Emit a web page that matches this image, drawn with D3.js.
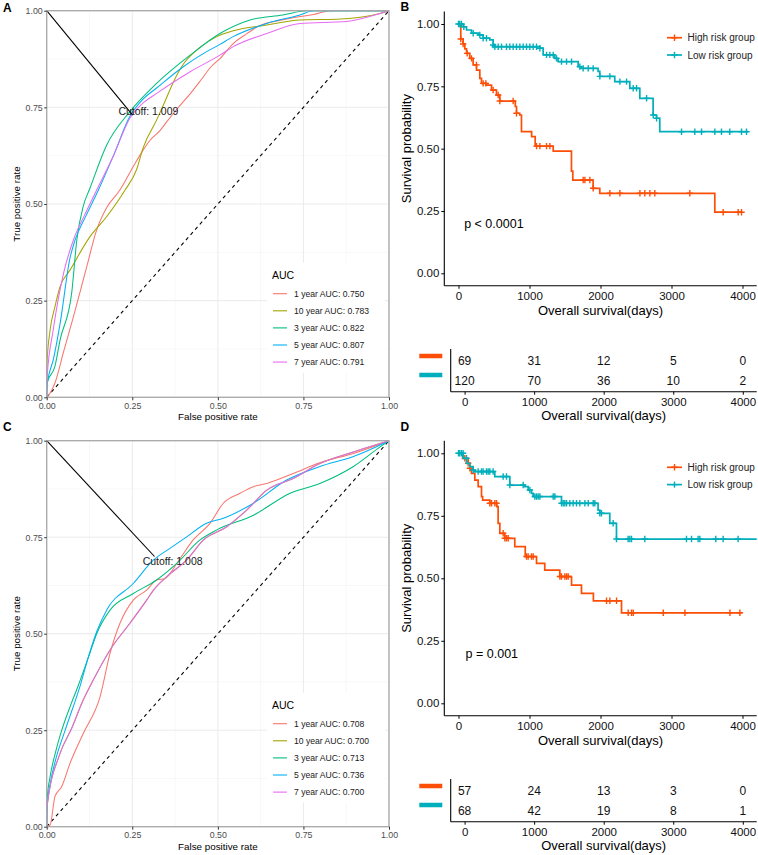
<!DOCTYPE html>
<html>
<head>
<meta charset="utf-8">
<title>ROC and survival curves</title>
<script src="https://cdn.jsdelivr.net/npm/d3@7"></script>
<style>
    body { margin: 0; background: #fff; }
    svg text { font-family: "Liberation Sans", Arial, Helvetica, sans-serif; }
</style>
</head>
<body>
<script>
    // ---------- ROC data (false positive rate, true positive rate) ----------
    var rocYears = ['1 year', '10 year', '3 year', '5 year', '7 year'];
    var rocColors = ['#F8766D', '#A3A500', '#00BF7D', '#00B0F6', '#E76BF3'];
    var aucA = ['0.750', '0.783', '0.822', '0.807', '0.791'];
    var aucC = ['0.708', '0.700', '0.713', '0.736', '0.700'];

    var rocA_1y = [[0,0],[0.01,0.011],[0.024,0.037],[0.05,0.12],[0.078,0.208],[0.117,0.338],[0.146,0.433],[0.175,0.49],[0.214,0.536],[0.253,0.597],[0.282,0.64],[0.302,0.665],[0.331,0.69],[0.351,0.713],[0.38,0.745],[0.419,0.785],[0.45,0.82],[0.48,0.855],[0.506,0.876],[0.545,0.915],[0.584,0.94],[0.623,0.962],[0.68,0.975],[0.74,0.985],[0.78,0.99],[0.828,1],[1,1]];
    var rocA_10y = [[0,0],[0.001,0.09],[0.01,0.174],[0.024,0.234],[0.039,0.286],[0.068,0.329],[0.126,0.415],[0.175,0.467],[0.229,0.536],[0.263,0.59],[0.282,0.646],[0.321,0.717],[0.341,0.756],[0.37,0.815],[0.394,0.855],[0.448,0.905],[0.497,0.933],[0.545,0.948],[0.643,0.963],[0.74,0.976],[0.847,0.978],[0.974,0.993],[1,1]];
    var rocA_3y = [[0,0],[0.001,0.037],[0.024,0.08],[0.039,0.148],[0.073,0.27],[0.088,0.407],[0.107,0.495],[0.126,0.54],[0.175,0.652],[0.243,0.739],[0.321,0.812],[0.419,0.885],[0.506,0.941],[0.594,0.976],[0.69,0.989],[0.76,1],[1,1]];
    var rocA_5y = [[0,0],[0.001,0.03],[0.02,0.1],[0.039,0.19],[0.068,0.36],[0.083,0.407],[0.115,0.47],[0.151,0.536],[0.195,0.625],[0.243,0.727],[0.28,0.77],[0.321,0.80],[0.399,0.855],[0.45,0.885],[0.506,0.913],[0.545,0.933],[0.643,0.967],[0.74,0.989],[0.779,1],[1,1]];
    var rocA_7y = [[0,0],[0.001,0.05],[0.019,0.174],[0.049,0.32],[0.078,0.407],[0.11,0.47],[0.146,0.536],[0.195,0.625],[0.243,0.722],[0.28,0.76],[0.321,0.786],[0.419,0.842],[0.506,0.885],[0.545,0.907],[0.643,0.941],[0.74,0.967],[0.876,0.972],[0.974,0.993],[1,1]];

    var rocC_1y = [[0,0],[0.01,0.004],[0.024,0.078],[0.044,0.104],[0.068,0.164],[0.107,0.242],[0.156,0.337],[0.185,0.449],[0.214,0.527],[0.253,0.587],[0.292,0.613],[0.321,0.639],[0.346,0.643],[0.38,0.682],[0.428,0.743],[0.477,0.786],[0.516,0.838],[0.565,0.864],[0.604,0.881],[0.643,0.889],[0.72,0.915],[0.798,0.943],[0.896,0.967],[1,1]];
    var rocC_7y = [[0,0],[0.001,0.052],[0.039,0.19],[0.073,0.255],[0.105,0.325],[0.136,0.38],[0.185,0.458],[0.243,0.527],[0.292,0.587],[0.312,0.613],[0.351,0.648],[0.409,0.691],[0.458,0.743],[0.526,0.777],[0.584,0.82],[0.643,0.872],[0.72,0.902],[0.798,0.941],[0.896,0.971],[1,1]];
    var rocC_10y = rocC_7y; // same AUC, drawn underneath the 7 year curve
    var rocC_3y = [[0,0],[0.001,0.069],[0.01,0.13],[0.025,0.19],[0.044,0.25],[0.07,0.315],[0.092,0.365],[0.127,0.452],[0.146,0.5],[0.185,0.561],[0.253,0.604],[0.321,0.639],[0.38,0.682],[0.448,0.743],[0.497,0.769],[0.604,0.807],[0.711,0.864],[0.798,0.889],[0.896,0.933],[0.974,0.984],[1,1]];
    var rocC_5y = [[0,0],[0.001,0.052],[0.01,0.11],[0.025,0.17],[0.054,0.25],[0.097,0.363],[0.127,0.455],[0.146,0.505],[0.175,0.561],[0.253,0.63],[0.312,0.691],[0.36,0.721],[0.409,0.751],[0.467,0.786],[0.516,0.799],[0.604,0.838],[0.701,0.898],[0.798,0.933],[0.896,0.959],[1,1]];

    var cutoffA = [0.251, 0.730], cutoffLabelA = [0.297, 0.740], cutoffTextA = 'Cutoff: 1.009';
    var cutoffC = [0.315, 0.700], cutoffLabelC = [0.368, 0.689], cutoffTextC = 'Cutoff: 1.008';

    // ---------- Kaplan-Meier data (days, survival) ----------
    var kmGroups = ['High risk group', 'Low risk group'];
    var kmColors = ['#FC4E07', '#00AFBB'];
    var riskTimes = [0, 1000, 2000, 3000, 4000];

    var kmB_highTime = [0, 32, 65, 89, 113, 159, 206, 254, 300, 324, 394, 465, 535, 582, 800, 817, 863, 887, 1030, 1080, 1334, 1591, 1610, 1896, 1990, 3610, 4000];
    var kmB_highSurv = [1, 0.94, 0.92, 0.90, 0.882, 0.862, 0.836, 0.815, 0.782, 0.762, 0.755, 0.735, 0.715, 0.691, 0.669, 0.642, 0.635, 0.568, 0.548, 0.51, 0.49, 0.41, 0.374, 0.341, 0.321, 0.245, 0.245];
    var kmB_highCens = [32, 65, 122, 183, 253, 347, 385, 488, 559, 582, 770, 817, 1099, 1146, 1240, 1287, 1756, 1780, 1850, 1897, 2132, 2273, 2555, 2624, 2695, 2765, 3258, 3728, 3939, 3986];
    var kmB_lowTime = [0, 66, 113, 183, 277, 347, 441, 488, 511, 1146, 1192, 1356, 1403, 1685, 1732, 1966, 1990, 2201, 2413, 2554, 2741, 2789, 2835, 4079];
    var kmB_lowSurv = [1, 0.989, 0.976, 0.963, 0.956, 0.943, 0.936, 0.916, 0.909, 0.903, 0.876, 0.862, 0.849, 0.829, 0.822, 0.81, 0.79, 0.769, 0.742, 0.702, 0.635, 0.622, 0.568, 0.568];
    var kmB_lowCens = [0, 18, 42, 75, 207, 300, 347, 394, 488, 512, 559, 606, 676, 723, 770, 817, 864, 911, 958, 1005, 1052, 1099, 1146, 1240, 1287, 1334, 1381, 1451, 1522, 1592, 1709, 1756, 1827, 1897, 1991, 2132, 2273, 2367, 2461, 2508, 2649, 2743, 2790, 3141, 3328, 3423, 3610, 3704, 3821, 3986, 4056];
    var riskB_high = [69, 31, 12, 5, 0];
    var riskB_low = [120, 70, 36, 10, 2];

    var kmD_highTime = [0, 65, 136, 159, 183, 230, 277, 324, 340, 441, 540, 558, 582, 652, 793, 940, 1099, 1215, 1427, 1592, 1732, 1900, 2296, 3990];
    var kmD_highSurv = [1, 0.98, 0.96, 0.94, 0.92, 0.893, 0.867, 0.827, 0.813, 0.80, 0.787, 0.72, 0.68, 0.66, 0.627, 0.587, 0.56, 0.533, 0.507, 0.473, 0.44, 0.41, 0.362, 0.362];
    var kmD_highCens = [89, 136, 160, 441, 465, 512, 535, 629, 653, 676, 700, 958, 981, 1028, 1052, 1428, 1451, 1498, 1522, 1545, 2085, 2132, 2226, 2390, 2437, 2461, 2884, 3189, 3823, 3963];
    var kmD_lowTime = [0, 66, 113, 159, 206, 230, 511, 723, 934, 981, 1028, 1051, 1451, 1966, 1990, 2131, 2225, 4200];
    var kmD_lowSurv = [1, 0.98, 0.96, 0.947, 0.933, 0.927, 0.907, 0.873, 0.867, 0.853, 0.84, 0.827, 0.80, 0.773, 0.76, 0.72, 0.657, 0.657];
    var kmD_lowCens = [0, 18, 42, 65, 112, 207, 277, 324, 347, 394, 418, 441, 488, 629, 676, 723, 911, 1005, 1075, 1099, 1122, 1146, 1334, 1357, 1451, 1475, 1498, 1522, 1568, 1615, 1662, 1709, 1780, 1827, 1897, 1920, 1991, 2014, 2178, 2225, 2389, 2413, 2437, 2624, 3211, 3282, 3375, 3399, 3624, 3727, 3938];
    var riskD_high = [57, 24, 13, 3, 0];
    var riskD_low = [68, 42, 19, 8, 1];

    var svg = d3.select('body').append('svg')
            .attr('width', 758)
            .attr('height', 855)
            .style('display', 'block');
    svg.append('rect').attr('width', 758).attr('height', 855).attr('fill', '#fff');

    function panelTag(txt, x, y) {
        svg.append('text').text(txt)
            .attr('x', x).attr('y', y)
            .attr('font-size', 12).attr('font-weight', 'bold');
    }

    // ROC panel
    function drawRoc(top, bottom, curves, auc, cutoff, cutLabel, cutText) {
        var x = d3.scaleLinear().domain([0, 1]).range([46.7, 389]);
        var y = d3.scaleLinear().domain([0, 1]).range([bottom, top]);
        var g = svg.append('g');
        var major = [0, 0.25, 0.5, 0.75, 1];
        var minor = [0.125, 0.375, 0.625, 0.875];

        minor.forEach(function (d) {
            g.append('line').attr('x1', x(d)).attr('x2', x(d)).attr('y1', y(0)).attr('y2', y(1))
                .attr('stroke', '#f3f3f3').attr('stroke-width', 0.6);
            g.append('line').attr('x1', x(0)).attr('x2', x(1)).attr('y1', y(d)).attr('y2', y(d))
                .attr('stroke', '#f3f3f3').attr('stroke-width', 0.6);
        });
        major.forEach(function (d) {
            g.append('line').attr('x1', x(d)).attr('x2', x(d)).attr('y1', y(0)).attr('y2', y(1))
                .attr('stroke', '#ebebeb').attr('stroke-width', 1);
            g.append('line').attr('x1', x(0)).attr('x2', x(1)).attr('y1', y(d)).attr('y2', y(d))
                .attr('stroke', '#ebebeb').attr('stroke-width', 1);
        });

        // chance diagonal
        g.append('line').attr('x1', x(0)).attr('y1', y(0)).attr('x2', x(1)).attr('y2', y(1))
            .attr('stroke', '#000').attr('stroke-width', 1.1).attr('stroke-dasharray', '3.5,3.5');

        var line = d3.line()
            .x(function (d) { return x(d[0]); })
            .y(function (d) { return y(d[1]); })
            .curve(d3.curveMonotoneX);
        curves.forEach(function (c, i) {
            g.append('path').attr('d', line(c))
                .attr('fill', 'none').attr('stroke', rocColors[i]).attr('stroke-width', 1.05);
        });

        // cutoff marker
        g.append('line').attr('x1', x(0)).attr('y1', y(1)).attr('x2', x(cutoff[0])).attr('y2', y(cutoff[1]))
            .attr('stroke', '#000').attr('stroke-width', 1.1);
        g.append('text').text(cutText)
            .attr('x', x(cutLabel[0])).attr('y', y(cutLabel[1]))
            .attr('text-anchor', 'middle').attr('dominant-baseline', 'central')
            .attr('font-size', 10.5).attr('fill', '#1a1a1a');

        // border
        g.append('rect').attr('x', x(0)).attr('y', y(1))
            .attr('width', x(1) - x(0)).attr('height', y(0) - y(1))
            .attr('fill', 'none').attr('stroke', '#a8a8a8').attr('stroke-width', 1.3);

        var ax = g.append('g').attr('transform', 'translate(0,' + bottom + ')')
            .call(d3.axisBottom(x).tickValues(major).tickFormat(d3.format('.2f')).tickSize(3).tickPadding(2.5));
        var ay = g.append('g').attr('transform', 'translate(' + x(0) + ',0)')
            .call(d3.axisLeft(y).tickValues(major).tickFormat(d3.format('.2f')).tickSize(2.5).tickPadding(1.5));
        [ax, ay].forEach(function (a) {
            a.select('.domain').remove();
            a.selectAll('line').attr('stroke', '#333');
            a.selectAll('text').attr('fill', '#4d4d4d').attr('font-size', 8.8)
                .style('font-family', '"Liberation Sans", Arial, sans-serif');
        });

        g.append('text').text('False positive rate')
            .attr('x', (x(0) + x(1)) / 2).attr('y', bottom + 19.5)
            .attr('text-anchor', 'middle').attr('dominant-baseline', 'central').attr('font-size', 9.8);
        g.append('text').text('True positive rate')
            .attr('transform', 'translate(16,' + (top + bottom) / 2 + ') rotate(-90)')
            .attr('text-anchor', 'middle').attr('dominant-baseline', 'central').attr('font-size', 9.8);

        // legend
        var lg = g.append('g').attr('transform', 'translate(267,' + (top + 252) + ')');
        lg.append('rect').attr('width', 118).attr('height', 110).attr('fill', '#fff');
        lg.append('text').text('AUC').attr('x', 5).attr('y', 12.5)
            .attr('dominant-baseline', 'central').attr('font-size', 10.5);
        rocYears.forEach(function (yr, i) {
            var yy = 31 + i * 17.1;
            lg.append('line').attr('x1', 6).attr('x2', 20).attr('y1', yy).attr('y2', yy)
                .attr('stroke', rocColors[i]).attr('stroke-width', 1.1);
            lg.append('text').text(yr + ' AUC: ' + auc[i]).attr('x', 27).attr('y', yy)
                .attr('dominant-baseline', 'central').attr('font-size', 8.6).attr('fill', '#1a1a1a');
        });
    }

    // Kaplan-Meier panel with risk table
    function drawKm(yOne, yZero, groups, pText, pTime, legendY, risk) {
        var span = yZero - yOne;
        var x = d3.scaleLinear().domain([-200, 4200]).range([444.3, 756.7]);
        var y = d3.scaleLinear().domain([-0.05, 1.05]).range([yZero + 0.05 * span, yOne - 0.05 * span]);
        var g = svg.append('g');
        var line = d3.line()
            .x(function (d) { return x(d[0]); })
            .y(function (d) { return y(d[1]); })
            .curve(d3.curveStepAfter);

        function plus(sel, px, py, col) {
            sel.append('path')
                .attr('d', 'M' + (px - 3.2) + ',' + py + 'H' + (px + 3.2) + 'M' + px + ',' + (py - 3.2) + 'V' + (py + 3.2))
                .attr('stroke', col).attr('stroke-width', 1.4).attr('fill', 'none');
        }

        groups.forEach(function (grp, i) {
            var pts = grp.time.map(function (t, k) { return [t, grp.surv[k]]; });
            g.append('path').attr('d', line(pts))
                .attr('fill', 'none').attr('stroke', kmColors[i]).attr('stroke-width', 1.7);
            grp.cens.forEach(function (c) {
                var k = d3.bisectRight(grp.time, c) - 1;
                plus(g, x(c), y(grp.surv[Math.max(k, 0)]), kmColors[i]);
            });
        });

        var ax = g.append('g').attr('transform', 'translate(0,' + y(-0.05) + ')')
            .call(d3.axisBottom(x).tickValues(riskTimes).tickFormat(d3.format('d')).tickSize(3).tickPadding(2.8));
        var ay = g.append('g').attr('transform', 'translate(' + x(-200) + ',0)')
            .call(d3.axisLeft(y).tickValues([0, 0.25, 0.5, 0.75, 1]).tickFormat(d3.format('.2f')).tickSize(3).tickPadding(2));
        [ax, ay].forEach(function (a) {
            a.select('.domain').attr('stroke', '#000').attr('stroke-width', 1.1);
            a.selectAll('.tick line').attr('stroke', '#000');
            a.selectAll('text').attr('fill', '#111').attr('font-size', 11.5)
                .style('font-family', '"Liberation Sans", Arial, sans-serif');
        });
        ax.select('.domain').attr('d', 'M' + x(-200) + ',0H' + x(4200));
        ay.select('.domain').attr('d', 'M0,' + y(-0.05) + 'V' + y(1.05));

        g.append('text').text('Overall survival(days)')
            .attr('x', (x(-200) + x(4200)) / 2).attr('y', yZero + 37.4)
            .attr('text-anchor', 'middle').attr('dominant-baseline', 'central').attr('font-size', 13);
        g.append('text').text('Survival probability')
            .attr('transform', 'translate(406.7,' + y(0.5) + ') rotate(-90)')
            .attr('text-anchor', 'middle').attr('dominant-baseline', 'central').attr('font-size', 13);

        g.append('text').text(pText)
            .attr('x', x(pTime)).attr('y', y(0.198))
            .attr('dominant-baseline', 'central').attr('font-size', 12.5);

        // legend
        kmGroups.forEach(function (name, i) {
            var ly = legendY + i * 17.3;
            g.append('line').attr('x1', 667).attr('x2', 682).attr('y1', ly).attr('y2', ly)
                .attr('stroke', kmColors[i]).attr('stroke-width', 1.7);
            plus(g, 674.5, ly, kmColors[i]);
            g.append('text').text(name).attr('x', 687.5).attr('y', ly)
                .attr('dominant-baseline', 'central').attr('font-size', 10).attr('fill', '#222');
        });

        // risk table
        var xr = d3.scaleLinear().domain([-200, 4200]).range([450.7, 756.7]);
        var tTop = yZero + 75.7, tBot = yZero + 118.4;
        var t = g.append('g');
        [risk.high, risk.low].forEach(function (row, i) {
            var by = tTop + 7 + i * 19;
            t.append('line').attr('x1', 419.3).attr('x2', 442.3).attr('y1', by).attr('y2', by)
                .attr('stroke', kmColors[i]).attr('stroke-width', 4.5);
            t.selectAll(null).data(row).enter().append('text')
                .text(function (d) { return d; })
                .attr('x', function (d, k) { return xr(riskTimes[k]); })
                .attr('y', tTop + 12 + i * 19.7)
                .attr('text-anchor', 'middle').attr('dominant-baseline', 'central')
                .attr('font-size', 12).attr('fill', '#111');
        });
        t.append('line').attr('x1', xr(-200)).attr('x2', xr(-200)).attr('y1', tTop).attr('y2', tBot)
            .attr('stroke', '#000').attr('stroke-width', 1.1);
        var at = t.append('g').attr('transform', 'translate(0,' + tBot + ')')
            .call(d3.axisBottom(xr).tickValues(riskTimes).tickFormat(d3.format('d')).tickSize(3).tickPadding(2.8));
        at.select('.domain').attr('d', 'M' + xr(-200) + ',0H' + xr(4200)).attr('stroke', '#000').attr('stroke-width', 1.1);
        at.selectAll('.tick line').attr('stroke', '#000');
        at.selectAll('text').attr('fill', '#111').attr('font-size', 11.5)
            .style('font-family', '"Liberation Sans", Arial, sans-serif');
        t.append('text').text('Overall survival(days)')
            .attr('x', (xr(-200) + xr(4200)) / 2).attr('y', tBot + 23.5)
            .attr('text-anchor', 'middle').attr('dominant-baseline', 'central').attr('font-size', 13);
    }

    drawRoc(10.7, 397.3, [rocA_1y, rocA_10y, rocA_3y, rocA_5y, rocA_7y], aucA, cutoffA, cutoffLabelA, cutoffTextA);
    drawRoc(440.7, 826.7, [rocC_1y, rocC_10y, rocC_3y, rocC_5y, rocC_7y], aucC, cutoffC, cutoffLabelC, cutoffTextC);

    drawKm(24, 273.3, [
        {time: kmB_highTime, surv: kmB_highSurv, cens: kmB_highCens},
        {time: kmB_lowTime, surv: kmB_lowSurv, cens: kmB_lowCens}
    ], 'p < 0.0001', 80, 37.7, {high: riskB_high, low: riskB_low});
    drawKm(453.3, 703.3, [
        {time: kmD_highTime, surv: kmD_highSurv, cens: kmD_highCens},
        {time: kmD_lowTime, surv: kmD_lowSurv, cens: kmD_lowCens}
    ], 'p = 0.001', 100, 467.3, {high: riskD_high, low: riskD_low});

    panelTag('A', 3, 12);
    panelTag('B', 400.5, 11);
    panelTag('C', 3, 430.5);
    panelTag('D', 400.5, 430.5);
</script>
</body>
</html>
